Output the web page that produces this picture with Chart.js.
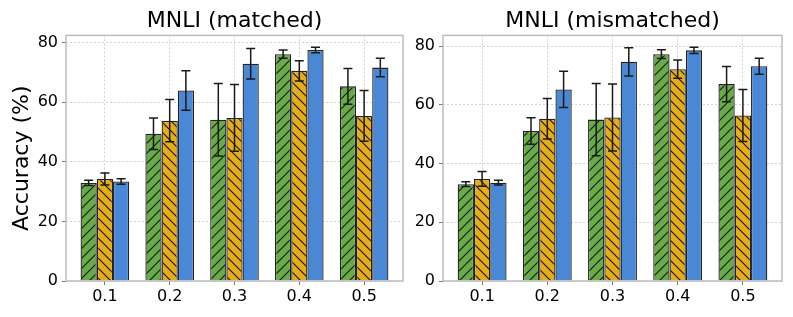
<!DOCTYPE html>
<html>
<head>
<meta charset="utf-8">
<script src="https://cdn.jsdelivr.net/npm/chart.js@4/dist/chart.umd.min.js"></script>
<style>
    body { margin: 0; background: #ffffff; }
    #wrap { position: relative; width: 793px; height: 317px; overflow: hidden; }
    canvas { position: absolute; top: 0; }
</style>
</head>
<body>
<div id="wrap">
    <canvas id="matchedChart" width="410" height="317" style="left:0px"></canvas>
    <canvas id="mismatchedChart" width="393" height="317" style="left:400px"></canvas>
</div>
<script>
// Data
const categories = ['0.1', '0.2', '0.3', '0.4', '0.5'];
const yTicks = [0, 20, 40, 60, 80];

const matchedGreen = [32.9, 49.4, 54.1, 76.1, 65.3];
const matchedGreenErr = [0.9, 5.3, 12.2, 1.4, 6.0];
const matchedYellow = [34.2, 53.8, 54.7, 70.5, 55.4];
const matchedYellowErr = [2.0, 7.1, 11.2, 3.4, 8.5];
const matchedBlue = [33.4, 63.9, 72.9, 77.5, 71.6];
const matchedBlueErr = [0.9, 6.6, 5.1, 0.9, 3.1];

const mismatchedGreen = [33.0, 51.1, 55.0, 77.3, 67.1];
const mismatchedGreenErr = [0.8, 4.5, 12.3, 1.5, 6.0];
const mismatchedYellow = [34.8, 55.3, 55.7, 72.2, 56.4];
const mismatchedYellowErr = [2.5, 6.9, 11.4, 3.1, 8.9];
const mismatchedBlue = [33.5, 65.3, 74.7, 78.6, 73.2];
const mismatchedBlueErr = [0.8, 6.2, 4.8, 1.1, 2.7];

const GREEN = '#69ab48';
const YELLOW = '#e5ac1e';
const BLUE = '#4a88d5';
const EDGE = '#222222';

Chart.defaults.font.family = "'DejaVu Sans', sans-serif";
Chart.defaults.color = '#000000';

// Hatch fill like matplotlib '/' and '\'
function hatch(color, forward) {
    const size = 10;
    const c = document.createElement('canvas');
    c.width = size;
    c.height = size;
    const g = c.getContext('2d');
    g.fillStyle = color;
    g.fillRect(0, 0, size, size);
    g.strokeStyle = '#1a1a1a';
    g.lineWidth = 1.2;
    g.beginPath();
    if (forward) {
        g.moveTo(0, size); g.lineTo(size, 0);
        g.moveTo(-2, 2); g.lineTo(2, -2);
        g.moveTo(size - 2, size + 2); g.lineTo(size + 2, size - 2);
    } else {
        g.moveTo(0, 0); g.lineTo(size, size);
        g.moveTo(-2, size - 2); g.lineTo(2, size + 2);
        g.moveTo(size - 2, -2); g.lineTo(size + 2, 2);
    }
    g.stroke();
    return g.createPattern(c, 'repeat');
}

// Frame around the plot area (all four spines)
const framePlugin = {
    id: 'frame',
    afterDatasetsDraw(chart) {
        const { ctx, chartArea: a } = chart;
        ctx.save();
        ctx.strokeStyle = '#bdbdbd';
        ctx.lineWidth = 1.5;
        ctx.strokeRect(a.left, a.top, a.right - a.left, a.bottom - a.top);
        ctx.restore();
    }
};

// Error bars with caps
const errorBarPlugin = {
    id: 'errorBars',
    afterDatasetsDraw(chart) {
        const ctx = chart.ctx;
        const yScale = chart.scales.y;
        ctx.save();
        ctx.strokeStyle = '#1a1a1a';
        ctx.lineWidth = 1.5;
        chart.data.datasets.forEach((ds, di) => {
            const meta = chart.getDatasetMeta(di);
            meta.data.forEach((bar, i) => {
                const v = ds.data[i].y;
                const e = ds.errors[i];
                const top = yScale.getPixelForValue(v + e);
                const bottom = yScale.getPixelForValue(v - e);
                const cap = 4.5;
                ctx.beginPath();
                ctx.moveTo(bar.x, top); ctx.lineTo(bar.x, bottom);
                ctx.moveTo(bar.x - cap, top); ctx.lineTo(bar.x + cap, top);
                ctx.moveTo(bar.x - cap, bottom); ctx.lineTo(bar.x + cap, bottom);
                ctx.stroke();
            });
        });
        ctx.restore();
    }
};

function series(label, values, errors, fill) {
    return {
        label: label,
        data: values.map((v, i) => ({ x: i, y: v })),
        errors: errors,
        backgroundColor: fill,
        borderColor: EDGE,
        borderWidth: 1.3,
        categoryPercentage: 0.75,
        barPercentage: 1.0
    };
}

function makeChart(id, title, sets, opts) {
    const gridStyle = {
        color: '#c8c8c8',
        lineWidth: 0.8,
        offset: false,
        tickColor: '#555555',
        tickBorderDash: [],
        tickLength: 4
    };
    return new Chart(document.getElementById(id), {
        type: 'bar',
        data: { datasets: sets },
        plugins: [framePlugin, errorBarPlugin],
        options: {
            responsive: false,
            animation: false,
            layout: { padding: { right: opts.padRight, left: 0 } },
            plugins: {
                legend: { display: false },
                tooltip: { enabled: false },
                title: {
                    display: true,
                    text: title,
                    fullSize: false,
                    font: { size: 22, weight: 'normal' },
                    padding: { top: 8, bottom: 1 },
                    color: '#000000'
                }
            },
            scales: {
                x: {
                    type: 'linear',
                    offset: false,
                    min: -0.6,
                    max: 4.6,
                    afterBuildTicks: s => { s.ticks = categories.map((c, i) => ({ value: i })); },
                    afterFit: s => { s.height = 36; },
                    ticks: {
                        callback: v => categories[v],
                        font: { size: 16 },
                        padding: 2,
                        maxRotation: 0
                    },
                    grid: gridStyle,
                    border: { display: false, dash: [2, 2] }
                },
                y: {
                    min: 0,
                    max: opts.yMax,
                    afterBuildTicks: s => { s.ticks = yTicks.map(v => ({ value: v })); },
                    afterFit: s => { s.width = opts.yWidth; },
                    ticks: { font: { size: 16 }, padding: 4 },
                    title: {
                        display: opts.yTitle,
                        text: 'Accuracy (%)',
                        font: { size: 22 },
                        padding: { top: 9, bottom: 0 },
                        color: '#000000'
                    },
                    grid: gridStyle,
                    border: { display: false, dash: [2, 2] }
                }
            }
        }
    });
}

makeChart('matchedChart', 'MNLI (matched)', [
    series('Model A', matchedGreen, matchedGreenErr, hatch(GREEN, true)),
    series('Model B', matchedYellow, matchedYellowErr, hatch(YELLOW, false)),
    series('Model C', matchedBlue, matchedBlueErr, BLUE)
], { yMax: 82.4, yWidth: 66, padRight: 7, yTitle: true });

makeChart('mismatchedChart', 'MNLI (mismatched)', [
    series('Model A', mismatchedGreen, mismatchedGreenErr, hatch(GREEN, true)),
    series('Model B', mismatchedYellow, mismatchedYellowErr, hatch(YELLOW, false)),
    series('Model C', mismatchedBlue, mismatchedBlueErr, BLUE)
], { yMax: 83.7, yWidth: 43, padRight: 11, yTitle: false });
</script>
</body>
</html>
